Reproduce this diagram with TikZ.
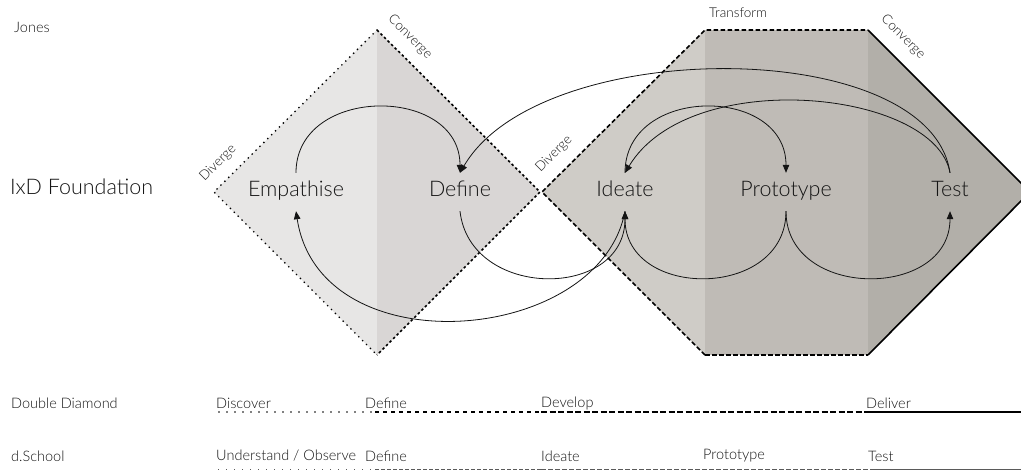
\documentclass[tikz,border=0pt]{standalone}
\usepackage{fontspec}
\setmainfont{Lato}[UprightFont=*-Light,Extension=.ttf,BoldFont=*-Regular]
\usetikzlibrary{arrows.meta}
\definecolor{ink}{HTML}{141414}
\definecolor{dmA}{HTML}{E7E6E5}
\definecolor{dmB}{HTML}{D9D6D5}
\definecolor{hxA}{HTML}{CFCCC7}
\definecolor{hxB}{HTML}{BFBBB6}
\definecolor{hxC}{HTML}{B2AFA9}
\begin{document}
\begin{tikzpicture}[x=1pt,y=-1pt,
  stage/.style={inner xsep=2pt,inner ysep=10.5pt,text height=13pt,text depth=4pt,
    font=\fontsize{21.5}{24}\selectfont,text=ink},
  tag/.style={inner sep=0pt,font=\fontsize{13.5}{15}\selectfont,text=ink},
  rowlabel/.style={inner sep=0pt,anchor=west,font=\fontsize{14.5}{16}\selectfont,text=ink},
  flow/.style={line width=0.8pt,draw=ink,-{Triangle[length=8pt,width=6.5pt]}},
  dotedge/.style={line width=1.9pt,line cap=round,dash pattern=on 0pt off 5.5pt},
  dashedge/.style={line width=1.6pt,dash pattern=on 2.5pt off 2.5pt},
  longedge/.style={line width=1.6pt,dash pattern=on 4.5pt off 2.5pt},
]
\useasboundingbox (0,0) rectangle (1021,472);

% left diamond
\fill[dmA] (377,30) -- (214,192) -- (377,355) -- cycle;
\fill[dmB] (377,30) -- (540,192) -- (377,355) -- cycle;
\draw[dotedge] (377,30) -- (214,192) -- (377,355);
\draw[dashedge] (377,30) -- (540,192) -- (377,355);

% hexagon
\fill[hxA] (542,192) -- (705,30) -- (705,355) -- cycle;
\fill[hxB] (705,30) rectangle (868,355);
\fill[hxC] (868,30) -- (1030,192) -- (868,355) -- cycle;
\draw[longedge] (705,355) -- (542,192) -- (705,30) -- (868,30);
\draw[longedge] (705,355) -- (868,355);
\draw[line width=1.6pt] (868,30) -- (1030,192) -- (868,355);

% titles
\node[tag,anchor=west,font=\fontsize{14.5}{16}\selectfont] (jones) at (14,27) {Jones};
\node[inner sep=0pt,anchor=west,font=\fontsize{21.5}{24}\selectfont,text=ink] (ixd) at (10,187) {IxD Foundation};
\node[tag,rotate=45] (div1) at (218,163) {Diverge};
\node[tag,rotate=-45] (con1) at (410,37) {Converge};
\node[tag,rotate=45] (div2) at (554,154) {Diverge};
\node[tag] (trf) at (738,13) {Transform};
\node[tag,rotate=-45] (con2) at (903,37) {Converge};

% stages
\node[stage] (emp) at (296,192) {Empathise};
\node[stage] (def) at (460,192) {Define};
\node[stage] (ide) at (625,192) {Ideate};
\node[stage] (pro) at (786,192) {Prototype};
\node[stage] (tst) at (950,192) {Test};

% connectors above
\draw[flow] (emp.north) .. controls (296,85) and (460,85) .. (def.north);
\draw[flow] (tst.north) .. controls (930,35) and (540,35) .. (def.north);
\draw[flow] (ide.north) .. controls (625,85) and (786,85) .. (pro.north);
\draw[flow] (tst.north) .. controls (935,90) and (690,65) .. (ide.north);

% connectors below
\draw[flow] (def.south) .. controls (470,300) and (625,300) .. (ide.south);
\draw[flow] (ide.south) .. controls (600,345) and (320,368) .. (emp.south);
\draw[flow] (pro.south) .. controls (786,300) and (625,300) .. (ide.south);
\draw[flow] (pro.south) .. controls (786,300) and (950,300) .. (tst.south);

% Double Diamond row
\node[rowlabel] (ddl) at (11,403) {Double Diamond};
\node[rowlabel] (dd1) at (216,403) {Discover};
\node[rowlabel] (dd2) at (365,403) {Define};
\node[rowlabel] (dd3) at (541,403) {Develop};
\node[rowlabel] (dd4) at (866,403) {Deliver};
\draw[line width=1.8pt,line cap=round,dash pattern=on 0pt off 8pt] (219,412) -- (375,412);
\draw[line width=1.5pt,dash pattern=on 3.5pt off 4.5pt] (375,412) -- (541,412);
\draw[line width=1.9pt,dash pattern=on 6pt off 2.5pt] (541,412) -- (866,412);
\draw[line width=2.3pt] (866,412) -- (1021,412);

% d.School row
\node[rowlabel] (dsl) at (11,456) {d.School};
\node[rowlabel] (ds1) at (216,456) {Understand / Observe};
\node[rowlabel] (ds2) at (365,456) {Define};
\node[rowlabel] (ds3) at (541,456) {Ideate};
\node[rowlabel] (ds4) at (703,456) {Prototype};
\node[rowlabel] (ds5) at (868,456) {Test};
\draw[line width=0.9pt,draw=ink!70,dash pattern=on 1pt off 7pt] (218,469) -- (375,469);
\draw[line width=0.9pt,draw=ink!70,dash pattern=on 3.5pt off 2.5pt] (375,469) -- (541,469);
\draw[line width=0.9pt,draw=ink!70,dash pattern=on 5pt off 2pt] (541,469) -- (870,469);
\draw[line width=0.9pt,draw=ink!70] (870,469) -- (1021,469);
\end{tikzpicture}
\end{document}
